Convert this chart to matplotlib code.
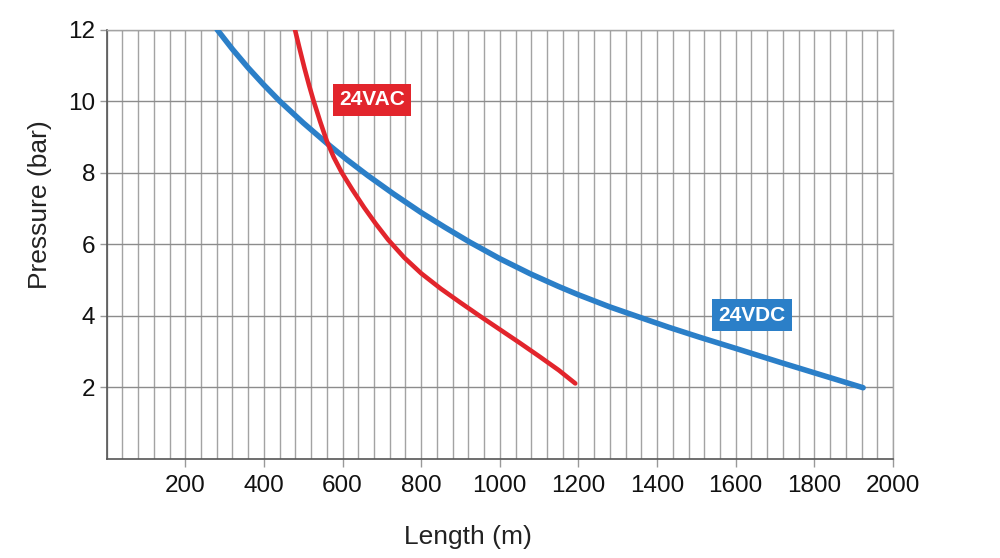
import matplotlib
matplotlib.use("Agg")
import matplotlib.pyplot as plt
from matplotlib.ticker import MultipleLocator

plt.rcParams['font.family'] = ['Liberation Sans', 'DejaVu Sans']

# Data
dc_length = [281, 320, 360, 400, 440, 500, 560, 610, 665, 730, 800, 860, 924, 1000,
             1077, 1150, 1200, 1280, 1356, 1430, 1509, 1600, 1713, 1820, 1924]
dc_pressure = [12.0, 11.45, 10.93, 10.45, 10.0, 9.39, 8.82, 8.37, 7.91, 7.4, 6.88, 6.47, 6.05, 5.59,
               5.17, 4.81, 4.58, 4.24, 3.95, 3.67, 3.39, 3.08, 2.69, 2.33, 1.98]

ac_length = [479, 490, 503, 515, 526, 543, 560, 578, 598, 625, 655, 685, 716, 757,
             800, 850, 900, 950, 1000, 1050, 1100, 1150, 1192]
ac_pressure = [12.0, 11.5, 10.93, 10.44, 10.02, 9.43, 8.88, 8.42, 8.0, 7.52, 7.02, 6.56, 6.12, 5.62,
               5.18, 4.75, 4.36, 3.98, 3.61, 3.24, 2.86, 2.47, 2.1]

x_ticks = [200, 400, 600, 800, 1000, 1200, 1400, 1600, 1800, 2000]
y_ticks = [2, 4, 6, 8, 10, 12]

label_ac = ("24VAC", 675, 10.03)
label_dc = ("24VDC", 1641, 4.01)

BLUE = "#2b7fc8"
RED = "#e2252c"
GRID = "#a3a3a3"

fig = plt.figure(figsize=(10, 5.58), dpi=100)
ax = fig.add_axes([0.1066, 0.1783, 0.7864, 0.7688])

ax.set_xlim(0, 2000)
ax.set_ylim(0, 12)

ax.set_xticks(x_ticks)
ax.set_yticks(y_ticks)
ax.xaxis.set_minor_locator(MultipleLocator(40))
ax.grid(True, which='both', axis='x', color=GRID, linewidth=1.0)
ax.grid(True, which='major', axis='y', color="#8c8c8c", linewidth=1.0)
ax.set_axisbelow(True)

ax.tick_params(axis='x', which='major', length=6, width=1, color="#999999",
               pad=6, labelsize=17.5, labelcolor="#111111")
ax.tick_params(axis='x', which='minor', length=0)
ax.tick_params(axis='y', which='major', length=5, width=1, color="#999999",
               pad=3, labelsize=17.5, labelcolor="#111111")

for side in ['left', 'bottom']:
    ax.spines[side].set_color("#555555")
    ax.spines[side].set_linewidth(1.2)
for side in ['top', 'right']:
    ax.spines[side].set_color(GRID)
    ax.spines[side].set_linewidth(1.0)

ax.plot(dc_length, dc_pressure, color=BLUE, linewidth=4.0, solid_capstyle='round',
        solid_joinstyle='round', zorder=3)
ax.plot(ac_length, ac_pressure, color=RED, linewidth=3.3, solid_capstyle='round',
        solid_joinstyle='round', zorder=4)

for (txt, x, y), col in [(label_ac, RED), (label_dc, BLUE)]:
    ax.text(x, y, txt, color="white", fontsize=15, fontweight='bold',
            ha='center', va='center', zorder=5,
            bbox=dict(boxstyle='square,pad=0.3', facecolor=col, edgecolor='none'))

fig.text(0.468, 1 - 537 / 558, "Length (m)", ha='center', va='center',
         fontsize=19, color="#222222")
fig.text(0.040, 1 - 205 / 558, "Pressure (bar)", ha='center', va='center',
         rotation=90, fontsize=19, color="#222222")

fig.savefig("out.png", dpi=100)
